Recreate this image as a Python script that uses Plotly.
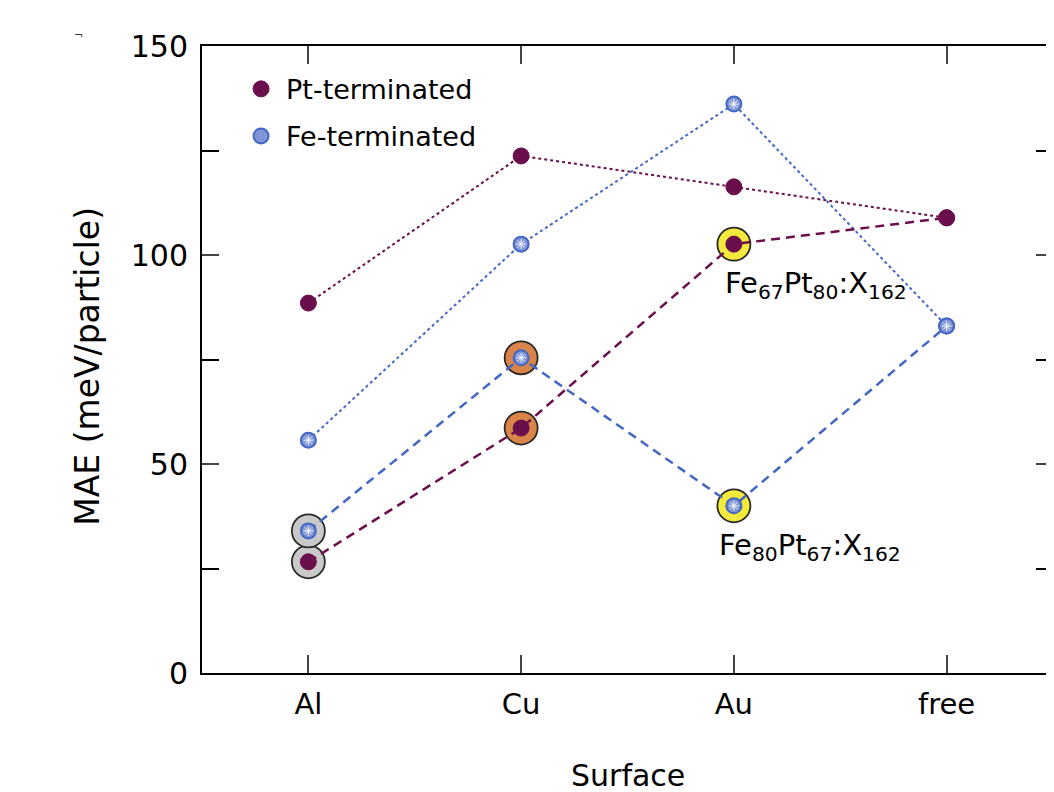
import plotly.graph_objects as go

surfaces = ["Al", "Cu", "Au", "free"]
pt_term_dotted = [88.5, 123.7, 116.3, 108.9]
fe_term_dotted = [55.7, 102.6, 136.1, 83.0]
pt_term_dashed = [26.6, 58.6, 102.6, 108.9]
fe_term_dashed = [34.0, 75.4, 40.0, 83.0]
highlight_surfaces = ["Al", "Cu", "Au"]
highlight_colors = ["#C9C9C9", "#D9854A", "#F4EA3C"]

PURPLE = "#6B0F4C"
BLUE = "#4466C4"
FE_FILL = "#7F95D8"
FONT = "DejaVu Sans, Liberation Sans, Arial, sans-serif"

fig = go.Figure()

# highlight discs behind the dashed-series points
for i, s in enumerate(highlight_surfaces):
    idx = surfaces.index(s)
    fig.add_trace(go.Scatter(
        x=[s, s], y=[pt_term_dashed[idx], fe_term_dashed[idx]], mode="markers",
        marker=dict(size=33, color=highlight_colors[i], line=dict(color="#2a2a2a", width=1.8)),
        showlegend=False, hoverinfo="skip"))

# lines
fig.add_trace(go.Scatter(x=surfaces, y=pt_term_dotted, mode="lines",
                         line=dict(color=PURPLE, width=2, dash="dot"), showlegend=False))
fig.add_trace(go.Scatter(x=surfaces, y=fe_term_dotted, mode="lines",
                         line=dict(color=BLUE, width=2, dash="dot"), showlegend=False))
fig.add_trace(go.Scatter(x=surfaces, y=pt_term_dashed, mode="lines",
                         line=dict(color=PURPLE, width=2.5, dash="9px,6px"), showlegend=False))
fig.add_trace(go.Scatter(x=surfaces, y=fe_term_dashed, mode="lines",
                         line=dict(color=BLUE, width=2.5, dash="9px,6px"), showlegend=False))

pt_marker = dict(size=16, color=PURPLE, line=dict(color=PURPLE, width=1))
fe_marker = dict(size=15, color=FE_FILL, line=dict(color=BLUE, width=2))

for ys in (pt_term_dotted, pt_term_dashed):
    fig.add_trace(go.Scatter(x=surfaces, y=ys, mode="markers", marker=pt_marker, showlegend=False))
for ys in (fe_term_dotted, fe_term_dashed):
    fig.add_trace(go.Scatter(x=surfaces, y=ys, mode="markers", marker=fe_marker, showlegend=False))
    fig.add_trace(go.Scatter(x=surfaces, y=ys, mode="markers",
                             marker=dict(size=8, symbol="asterisk-open", color="white",
                                         line=dict(color="white", width=1)),
                             showlegend=False, hoverinfo="skip"))

# legend entries
fig.add_trace(go.Scatter(x=[None], y=[None], mode="markers", marker=pt_marker,
                         name="Pt-terminated", legendgroup="a"))
fig.add_trace(go.Scatter(x=[None], y=[None], mode="markers", marker=fe_marker,
                         name="Fe-terminated", legendgroup="b"))

fig.add_annotation(x="Au", y=102.6, text="Fe<sub>67</sub>Pt<sub>80</sub>:X<sub>162</sub>",
                   showarrow=False, xanchor="left", yanchor="top", xshift=-11, yshift=-20,
                   font=dict(family=FONT, size=29, color="black"))
fig.add_annotation(x="Au", y=40.0, text="Fe<sub>80</sub>Pt<sub>67</sub>:X<sub>162</sub>",
                   showarrow=False, xanchor="left", yanchor="top", xshift=-17, yshift=-20,
                   font=dict(family=FONT, size=29, color="black"))
fig.add_annotation(x=-0.153, y=1.03, xref="paper", yref="paper", text="¬",
                   showarrow=False, font=dict(family=FONT, size=11, color="#333333"))

# axis titles
fig.add_annotation(x=0.5, y=-0.1627, xref="paper", yref="paper", text="Surface",
                   showarrow=False, xanchor="center", yanchor="middle",
                   font=dict(family=FONT, size=30, color="black"))
fig.add_annotation(x=-0.134, y=0.49, xref="paper", yref="paper", text="MAE (meV/particle)",
                   showarrow=False, xanchor="center", yanchor="middle", textangle=-90,
                   font=dict(family=FONT, size=33, color="black"))

fig.update_layout(
    width=1046, height=784,
    margin=dict(l=194, r=1, t=38, b=119),
    plot_bgcolor="white", paper_bgcolor="white",
    font=dict(family=FONT, size=29, color="black"),
    legend=dict(x=0.04, y=0.97, xanchor="left", yanchor="top",
                font=dict(family=FONT, size=27), bgcolor="rgba(0,0,0,0)",
                tracegroupgap=9, itemwidth=40),
    xaxis=dict(type="category", range=[-0.5, 3.5], showgrid=False, zeroline=False,
               showline=True, linecolor="black", linewidth=2, mirror="allticks",
               ticks="inside", ticklen=18, tickwidth=2, ticklabelstandoff=4,
               automargin=False, tickfont=dict(size=29)),
    yaxis=dict(range=[0, 150], tickvals=[0, 50, 100, 150], ticktext=["0", "50", "100", "150"],
               minor=dict(tickvals=[25, 75, 125], ticks="inside", ticklen=17, tickwidth=2,
                          tickcolor="black"),
               showgrid=False, zeroline=False, showline=True, linecolor="black",
               linewidth=2, mirror="allticks", ticks="inside", ticklen=17, tickwidth=2,
               ticklabelstandoff=6, automargin=False, tickfont=dict(size=30)),
)

fig.write_html("out.html")
